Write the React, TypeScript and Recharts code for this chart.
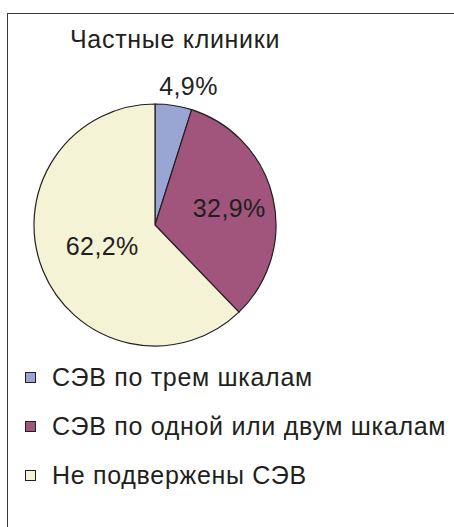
import { PieChart, Pie, Cell } from 'recharts';

const categories = ['СЭВ по трем шкалам', 'СЭВ по одной или двум шкалам', 'Не подвержены СЭВ'];
const values = [4.9, 32.9, 62.2];
const labels = ['4,9%', '32,9%', '62,2%'];
const colors = ['#99a5d3', '#a1547c', '#f4f3d5'];

const title = 'Частные клиники';

const data = categories.map((name, i) => ({ name, value: values[i] }));

const FONT = "'Liberation Sans', Arial, sans-serif";
const INK = '#231f20';

const RAD = Math.PI / 180;
const labelRadius = [1.16, 0.63, 0.47];
const labelShiftX = [12, 0, 0];

const renderLabel = (props: any) => {
  const { cx, cy, midAngle, outerRadius, index } = props;
  const r = outerRadius * labelRadius[index];
  const x = cx + r * Math.cos(-midAngle * RAD) + labelShiftX[index];
  const y = cy + r * Math.sin(-midAngle * RAD);
  return (
    <text
      x={x}
      y={y}
      textAnchor="middle"
      dominantBaseline="central"
      fill={INK}
      fontSize={25}
      letterSpacing={0.4}
      fontFamily={FONT}
    >
      {labels[index]}
    </text>
  );
};

function ChartLegend() {
  return (
    <div style={{ position: 'absolute', left: 25, top: 353, fontFamily: FONT }}>
      {categories.map((name, i) => (
        <div key={name} style={{ display: 'flex', alignItems: 'center', height: 49 }}>
          <span
            style={{
              display: 'inline-block',
              width: 9,
              height: 9,
              background: colors[i],
              border: `1px solid ${INK}`,
              marginRight: 16,
            }}
          />
          <span style={{ fontSize: 25, letterSpacing: 0.7, color: INK, whiteSpace: 'nowrap' }}>
            {name}
          </span>
        </div>
      ))}
    </div>
  );
}

export default function App() {
  return (
    <div
      style={{
        position: 'absolute',
        left: 0,
        top: 0,
        width: 454,
        height: 527,
        overflow: 'hidden',
        background: '#fff',
      }}
    >
      <div
        style={{
          position: 'absolute',
          left: 7,
          top: 13,
          width: 470,
          height: 540,
          border: '1.5px solid #3a3a3a',
          boxSizing: 'border-box',
        }}
      />
      <div
        style={{
          position: 'absolute',
          left: 70,
          top: 25,
          fontFamily: FONT,
          fontSize: 25,
          letterSpacing: 0.7,
          color: INK,
          whiteSpace: 'nowrap',
        }}
      >
        {title}
      </div>
      <div style={{ position: 'absolute', left: 0, top: 0 }}>
        <PieChart width={454} height={527} margin={{ top: 0, right: 0, bottom: 0, left: 0 }}>
          <Pie
            data={data}
            dataKey="value"
            nameKey="name"
            cx={155}
            cy={225}
            outerRadius={121}
            startAngle={90}
            endAngle={-270}
            stroke={INK}
            strokeWidth={1.2}
            label={renderLabel}
            labelLine={false}
            isAnimationActive={false}
          >
            {data.map((d, i) => (
              <Cell key={d.name} fill={colors[i]} />
            ))}
          </Pie>
        </PieChart>
      </div>
      <ChartLegend />
    </div>
  );
}
